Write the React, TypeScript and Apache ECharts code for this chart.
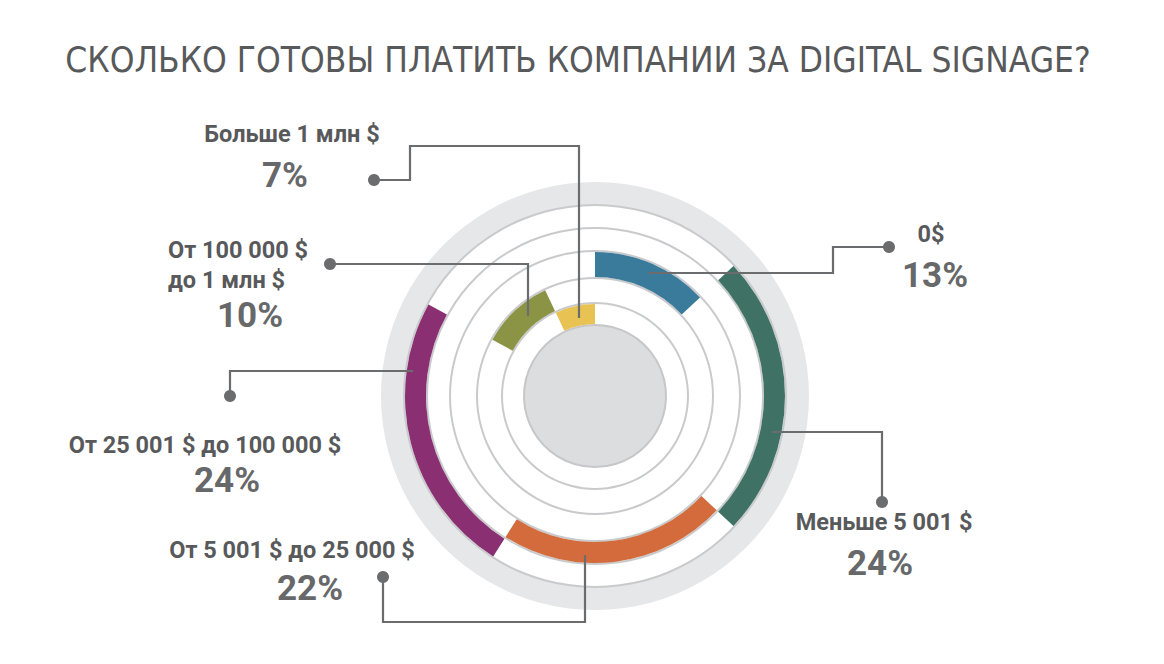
import React, { useEffect, useRef } from "react";
import * as echarts from "echarts";

const titleText = "СКОЛЬКО ГОТОВЫ ПЛАТИТЬ КОМПАНИИ ЗА DIGITAL SIGNAGE?";
const categories = [
  "0$",
  "Меньше 5 001 $",
  "От 5 001 $ до 25 000 $",
  "От 25 001 $ до 100 000 $",
  "От 100 000 $\nдо 1 млн $",
  "Больше 1 млн $",
];
const values = [13, 24, 22, 24, 10, 7];
const colors = ["#3a7a9a", "#3f7265", "#d36b3c", "#8a2f72", "#8b9344", "#e8c252"];
// which concentric band each category sits on (0 = innermost)
const bandOf = [2, 4, 3, 4, 1, 0];

const CX = 595;
const CY = 396;
const ringRadii = [71, 93, 118, 145, 168, 191];
const OUTER_R = 214;

// label layout (annotation positions)
type Lbl = { lines: { x: number; y: number; align: string }[]; pct: { x: number; y: number } };
const labelLayout: Lbl[] = [
  { lines: [{ x: 931, y: 234, align: "center" }], pct: { x: 935, y: 275 } },
  { lines: [{ x: 884, y: 522, align: "center" }], pct: { x: 880, y: 563 } },
  { lines: [{ x: 292, y: 550, align: "center" }], pct: { x: 310, y: 588 } },
  { lines: [{ x: 205, y: 445, align: "center" }], pct: { x: 227, y: 480 } },
  {
    lines: [
      { x: 168, y: 250, align: "left" },
      { x: 168, y: 280, align: "left" },
    ],
    pct: { x: 250, y: 315 },
  },
  { lines: [{ x: 292, y: 134, align: "center" }], pct: { x: 285, y: 175 } },
];
const leaders: number[][][] = [
  [[648, 273], [833, 273], [833, 247], [889, 247]],
  [[772, 432], [882, 432], [882, 502]],
  [[585, 555], [585, 622], [383, 622], [383, 577]],
  [[413, 371], [230, 371], [230, 396]],
  [[528, 316], [528, 264], [330, 264]],
  [[579, 318], [579, 146], [410, 146], [410, 180], [374, 180]],
];

const LABEL_COLOR = "#58595b";
const PCT_COLOR = "#676869";
const LINE_COLOR = "#6b6c6e";

export default function App() {
  const ref = useRef<HTMLDivElement>(null);
  useEffect(() => {
    if (!ref.current) return;
    const chart = echarts.init(ref.current, undefined, { renderer: "svg" });

    const base = {
      type: "pie",
      center: [CX, CY],
      startAngle: 90,
      clockwise: true,
      silent: true,
      label: { show: false },
      labelLine: { show: false },
      emphasis: { disabled: true },
      animation: false,
    };

    const series: any[] = [];
    // outer light band
    series.push({
      ...base,
      radius: [ringRadii[5], OUTER_R],
      z: 1,
      itemStyle: { color: "#e6e7e8", borderWidth: 0 },
      data: [{ value: 1, name: "band" }],
    });
    // inner disc
    series.push({
      ...base,
      radius: [0, ringRadii[0]],
      z: 2,
      itemStyle: { color: "#dcdddf", borderColor: "#c6c7c9", borderWidth: 2 },
      data: [{ value: 1, name: "disc" }],
    });
    // thin circle lines
    ringRadii.slice(1).forEach((r, i) => {
      series.push({
        ...base,
        radius: [r - 1, r + 1],
        z: 3,
        itemStyle: { color: "#c9cacc", borderWidth: 0 },
        data: [{ value: 1, name: "ring" + i }],
      });
    });
    // coloured arcs: one pie per category, only its own slice visible
    categories.forEach((_, k) => {
      const b = bandOf[k];
      series.push({
        ...base,
        name: categories[k],
        radius: [ringRadii[b] + 1, ringRadii[b + 1] - 1],
        z: 4,
        data: categories.map((c, i) => ({
          name: c,
          value: values[i],
          itemStyle: {
            color: i === k ? colors[k] : "rgba(0,0,0,0)",
            borderWidth: 0,
          },
        })),
      });
    });

    const graphics: any[] = [];
    leaders.forEach((pts) => {
      graphics.push({
        type: "polyline",
        z: 100,
        shape: { points: pts },
        style: { stroke: LINE_COLOR, lineWidth: 2.2, fill: null },
      });
      const end = pts[pts.length - 1];
      graphics.push({
        type: "circle",
        z: 101,
        shape: { cx: end[0], cy: end[1], r: 6 },
        style: { fill: LINE_COLOR },
      });
    });
    categories.forEach((c, i) => {
      const lay = labelLayout[i];
      const parts = c.split("\n");
      parts.forEach((p, j) => {
        const pos = lay.lines[j];
        graphics.push({
          type: "text",
          z: 102,
          style: {
            text: p,
            x: pos.x,
            y: pos.y,
            textAlign: pos.align,
            textVerticalAlign: "middle",
            font: "bold 23.5px Roboto",
            fill: LABEL_COLOR,
          },
        });
      });
      graphics.push({
        type: "text",
        z: 102,
        style: {
          text: values[i] + "%",
          x: lay.pct.x,
          y: lay.pct.y,
          textAlign: "center",
          textVerticalAlign: "middle",
          font: "bold 35px Roboto",
          fill: PCT_COLOR,
        },
      });
    });
    graphics.push({
      type: "text",
      z: 102,
      style: {
        text: titleText,
        x: 578,
        y: 60,
        textAlign: "center",
        textVerticalAlign: "middle",
        font: "normal 35px 'DejaVu Sans Condensed', 'DejaVu Sans', sans-serif",
        fill: LABEL_COLOR,
      },
    });

    chart.setOption({
      animation: false,
      backgroundColor: "#ffffff",
      series,
      graphic: graphics,
    });
    return () => chart.dispose();
  }, []);
  return (
    <div
      ref={ref}
      style={{ position: "fixed", left: 0, top: 0, width: 1164, height: 664 }}
    />
  );
}
